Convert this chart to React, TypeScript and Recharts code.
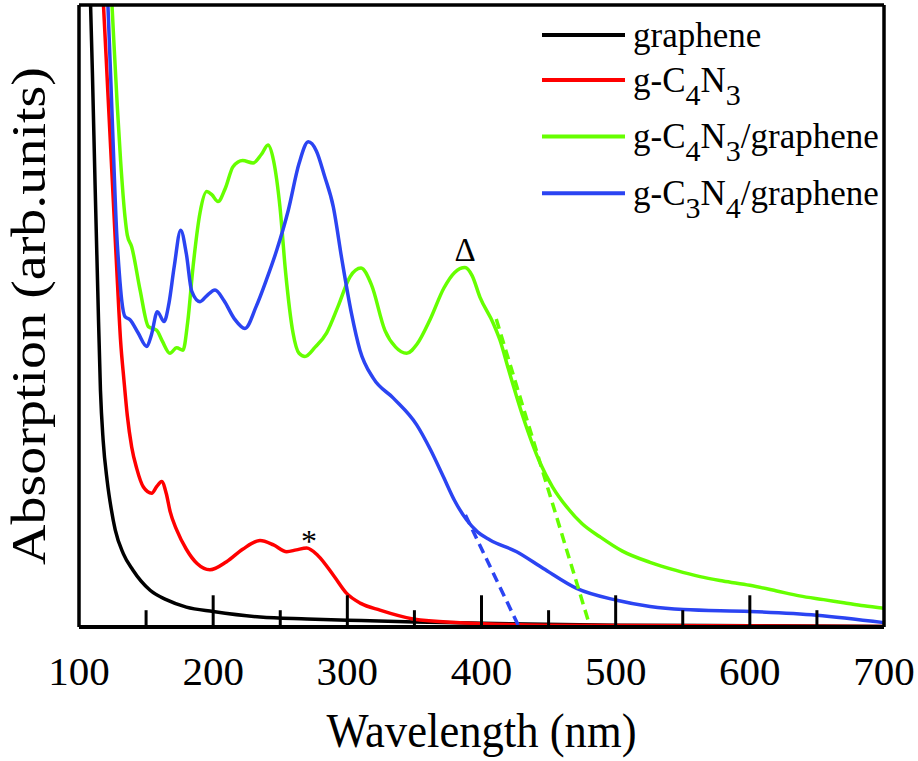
import React from "react";
import {
  LineChart,
  Line,
  XAxis,
  YAxis,
  ReferenceLine,
  ReferenceDot,
  Legend,
  Label,
} from "recharts";

// wavelength (nm), absorption (arb. units, 0-100 frame)
const grapheneData: [number, number][] = [
  [108, 105], [110, 89], [112, 71], [114, 54], [116, 38], [118, 30], [121, 23.5],
  [124, 19], [127, 15.6], [133, 11.8], [140, 9.2], [153, 5.9], [165, 4.4],
  [180, 3.2], [200, 2.5], [235, 1.6], [270, 1.3], [300, 1.1], [350, 0.8],
  [400, 0.6], [500, 0.3], [600, 0.2], [700, 0.1],
];

const gC4N3Data: [number, number][] = [
  [116, 108], [118, 101], [121.5, 86], [125, 71], [128.5, 56], [131, 46],
  [133.5, 39.7], [136, 34], [139.3, 28.9], [143, 25.5], [148, 22.5],
  [154.2, 21.5], [158, 22.6], [161.6, 23.4], [165, 21.5], [168, 18.5],
  [172.8, 15.6], [180, 12.5], [188, 10.2], [197.6, 9.2], [210, 10.5],
  [222, 12.5], [234.9, 13.9], [245, 13.2], [254.8, 12.1], [262, 12.4],
  [269.7, 12.7], [278, 11.5], [290, 8.2], [299.5, 5.4], [310, 3.8],
  [324.3, 2.7], [349, 1.3], [384, 0.7], [450, 0.3], [500, 0.25], [700, 0.1],
];

const gC4N3GrapheneData: [number, number][] = [
  [123, 108], [124.4, 100.8], [126.5, 92], [128.5, 83.9], [131, 75],
  [134.3, 65.9], [136, 63], [139.3, 61.1], [145.5, 54.2], [151.7, 48.3],
  [157.9, 47.7], [162, 46], [167.8, 44], [172.8, 44.9], [177.5, 44.5],
  [181, 49], [185, 57.9], [190.2, 66.6], [195.2, 70], [199, 69.5],
  [203.6, 68.4], [209, 70.5], [214.8, 74], [222, 75], [229.7, 74.6],
  [236, 76], [240.9, 77.5], [245, 75], [249.8, 67.5], [254, 57],
  [259.5, 47.3], [264, 44], [268.4, 43.5], [276, 45], [284.6, 47.3],
  [293, 51.5], [302, 56.3], [310.2, 57.7], [318, 55], [328, 47.7],
  [336, 45], [344.2, 44], [352, 45.5], [361.6, 49.4], [372, 54.5],
  [380, 57], [387.7, 57.8], [393, 56.5], [398.9, 53], [408.8, 48.8],
  [413.8, 46.1], [420, 41.5], [430.9, 33.8], [443.6, 26.4], [453, 22.5],
  [463.5, 19.3], [475, 16.6], [488.3, 14.5], [505, 12.2], [525.6, 10.4],
  [545, 9.1], [562.9, 8.1], [580, 7.4], [600, 6.7], [620, 5.8],
  [637, 5.0], [655, 4.4], [670, 3.9], [685, 3.4], [700, 3.0],
];

const gC3N4GrapheneData: [number, number][] = [
  [119.5, 108], [121.4, 100.8], [124.8, 81.5], [128.1, 63.3], [130, 57],
  [131.8, 52.6], [134.3, 49.9], [138, 49.4], [144, 47.3], [150.5, 45.1],
  [154, 47], [158.4, 50.7], [163.4, 49.1], [167, 52], [171, 58],
  [175.8, 63.8], [180, 60], [184, 54], [190.2, 52.3], [195, 53.2],
  [201.4, 54.2], [208, 52.5], [216, 49.5], [223.7, 48], [232, 51.5],
  [240, 56], [247.4, 60.6], [256, 67], [264, 74.5], [270.9, 78],
  [277, 76.5], [283, 72.5], [289.5, 67.6], [296, 59], [303, 50.5],
  [309.4, 44.5], [319.3, 40], [334.3, 36.8], [351.7, 32.5], [362, 28.5],
  [371.5, 24.2], [380, 20.3], [389, 17.2], [397, 15.3], [406.3, 14],
  [426.2, 12.1], [446.1, 9.4], [470.9, 6.2], [500.8, 4.3], [525.6, 3.3],
  [550.4, 2.8], [600.1, 2.5], [649.8, 1.9], [700, 0.7],
];

// tangent lines for the absorption edges
const gC4N3Edge: [number, number][] = [[411, 49.5], [481, 0]];
const gC3N4Edge: [number, number][] = [[388, 18], [428, 0]];

const seriesOrder = ["graphene", "g-C4N3", "g-C4N3/graphene", "g-C3N4/graphene"];

const wavelengthTicks = [100, 200, 300, 400, 500, 600, 700];
const majorTickMarks = [200, 300, 400, 500, 600];
const minorTickMarks = [150, 250, 350, 450, 550, 650];

const FONT = '"Liberation Serif", Tinos, "DejaVu Serif", "Noto Serif", serif';
const BLACK = "#000000";
const RED = "#ff0000";
const GREEN = "#66ff00";
const BLUE = "#2b44f2";

const serif = (size: number) => ({ fontFamily: FONT, fontSize: size });

const toPoints = (arr: [number, number][]) => arr.map(([nm, a]) => ({ nm, a }));

// "g-C4N3/graphene" -> digits as subscripts
function renderFormula(name: string) {
  const parts = name.split(/(\d+)/).filter((p) => p.length > 0);
  let shifted = false;
  return parts.map((p, i) => {
    if (/^\d+$/.test(p)) {
      shifted = true;
      return (
        <tspan key={i} style={serif(30)} dy={13}>
          {p}
        </tspan>
      );
    }
    const dy = shifted ? -13 : 0;
    shifted = false;
    return (
      <tspan key={i} dy={dy}>
        {p}
      </tspan>
    );
  });
}

function LegendBox(props: any) {
  const items = (props.payload || [])
    .filter((e: any) => e.type !== "none" && seriesOrder.includes(String(e.value)))
    .sort(
      (a: any, b: any) =>
        seriesOrder.indexOf(String(a.value)) - seriesOrder.indexOf(String(b.value))
    );
  const baselines = [46.7, 91.7, 148.3, 205];
  return (
    <svg width={380} height={225} style={{ display: "block" }}>
      {items.map((entry: any, i: number) => {
        const base = baselines[i] ?? 46.7 + i * 56;
        return (
          <g key={entry.value}>
            <line
              x1={12}
              x2={95}
              y1={base - 11.7}
              y2={base - 11.7}
              stroke={entry.color}
              strokeWidth={4}
            />
            <text x={103} y={base} style={serif(35)} fill="#000">
              {renderFormula(String(entry.value))}
            </text>
          </g>
        );
      })}
    </svg>
  );
}

function WavelengthTick(props: any) {
  const { x, y, payload } = props;
  return (
    <text x={x} y={y + 58} textAnchor="middle" style={serif(41)} fill="#000">
      {payload.value}
    </text>
  );
}

export default function App() {
  return (
    <div
      style={{ position: "absolute", left: 0, top: 0, background: "#fff", fontFamily: FONT }}
    >
      <LineChart
        width={918}
        height={761}
        margin={{ top: 5, right: 34, bottom: 0, left: 0 }}
      >
        <XAxis
          type="number"
          dataKey="nm"
          domain={[100, 700]}
          ticks={wavelengthTicks}
          allowDataOverflow
          axisLine={false}
          tickLine={false}
          tickSize={0}
          tickMargin={0}
          height={134}
          tick={<WavelengthTick />}
          interval={0}
        >
          <Label
            content={(p: any) => {
              const vb = p.viewBox || { x: 79, y: 627, width: 805 };
              return (
                <text
                  x={vb.x + vb.width / 2}
                  y={vb.y + 120}
                  textAnchor="middle"
                  style={serif(48)}
                  textLength={310}
                  lengthAdjust="spacingAndGlyphs"
                  fill="#000"
                >
                  Wavelength (nm)
                </text>
              );
            }}
          />
        </XAxis>
        <YAxis
          type="number"
          domain={[0, 100]}
          allowDataOverflow
          width={79}
          tick={false}
          axisLine={false}
          tickLine={false}
        >
          <Label
            content={(p: any) => {
              const vb = p.viewBox || { x: 0, y: 5, width: 79, height: 622 };
              const cx = vb.x + 45;
              const cy = vb.y + vb.height / 2;
              return (
                <text
                  x={cx}
                  y={cy}
                  transform={`rotate(-90, ${cx}, ${cy})`}
                  textAnchor="middle"
                  style={serif(48)}
                  textLength={498}
                  lengthAdjust="spacingAndGlyphs"
                  fill="#000"
                >
                  Absorption (arb.units)
                </text>
              );
            }}
          />
        </YAxis>

        <Legend
          layout="vertical"
          align="center"
          verticalAlign="middle"
          wrapperStyle={{ left: 530, top: 0, width: 380, height: 225 }}
          content={<LegendBox />}
        />

        <Line
          data={toPoints(grapheneData)}
          dataKey="a"
          name="graphene"
          type="monotone"
          stroke={BLACK}
          strokeWidth={3.5}
          dot={false}
          activeDot={false}
          isAnimationActive={false}
        />
        <Line
          data={toPoints(gC4N3Data)}
          dataKey="a"
          name="g-C4N3"
          type="monotone"
          stroke={RED}
          strokeWidth={3.5}
          dot={false}
          activeDot={false}
          isAnimationActive={false}
        />
        <Line
          data={toPoints(gC4N3GrapheneData)}
          dataKey="a"
          name="g-C4N3/graphene"
          type="monotone"
          stroke={GREEN}
          strokeWidth={3.5}
          dot={false}
          activeDot={false}
          isAnimationActive={false}
        />
        <Line
          data={toPoints(gC3N4GrapheneData)}
          dataKey="a"
          name="g-C3N4/graphene"
          type="monotone"
          stroke={BLUE}
          strokeWidth={3.5}
          dot={false}
          activeDot={false}
          isAnimationActive={false}
        />
        <Line
          data={toPoints(gC4N3Edge)}
          dataKey="a"
          name="edge-green"
          legendType="none"
          type="linear"
          stroke={GREEN}
          strokeWidth={3.5}
          strokeDasharray="10 6"
          dot={false}
          activeDot={false}
          isAnimationActive={false}
        />
        <Line
          data={toPoints(gC3N4Edge)}
          dataKey="a"
          name="edge-blue"
          legendType="none"
          type="linear"
          stroke={BLUE}
          strokeWidth={3.5}
          strokeDasharray="10 6"
          dot={false}
          activeDot={false}
          isAnimationActive={false}
        />

        {majorTickMarks.map((t) => (
          <ReferenceLine
            key={`M${t}`}
            segment={[{ x: t, y: 0 }, { x: t, y: 5.1 }]}
            stroke="#000"
            strokeWidth={3}
          />
        ))}
        {minorTickMarks.map((t) => (
          <ReferenceLine
            key={`m${t}`}
            segment={[{ x: t, y: 0 }, { x: t, y: 2.7 }]}
            stroke="#000"
            strokeWidth={3}
          />
        ))}

        <ReferenceLine x={100} stroke="#000" strokeWidth={3.5} />
        <ReferenceLine x={700} stroke="#000" strokeWidth={3.5} />
        <ReferenceLine y={0} stroke="#000" strokeWidth={4} />
        <ReferenceLine y={100} stroke="#000" strokeWidth={3.5} />

        <ReferenceDot
          x={271.4}
          y={12.1}
          r={0}
          fill="none"
          stroke="none"
          label={(p: any) => (
            <text
              x={p.viewBox.x}
              y={p.viewBox.y}
              textAnchor="middle"
              style={serif(32)}
              fill="#000"
            >
              *
            </text>
          )}
        />
        <ReferenceDot
          x={387.7}
          y={58.8}
          r={0}
          fill="none"
          stroke="none"
          label={(p: any) => (
            <text
              x={p.viewBox.x}
              y={p.viewBox.y}
              textAnchor="middle"
              style={serif(33)}
              fill="#000"
            >
              Δ
            </text>
          )}
        />
      </LineChart>
    </div>
  );
}
